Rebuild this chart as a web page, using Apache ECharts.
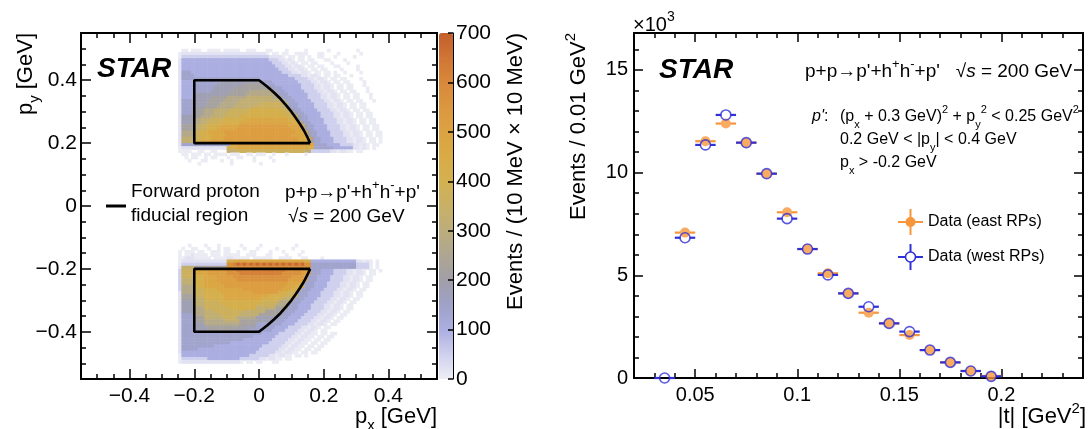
<!DOCTYPE html>
<html><head><meta charset="utf-8">
<script src="https://cdn.jsdelivr.net/npm/echarts@6/dist/echarts.min.js"></script>
<style>html,body{margin:0;padding:0;background:#fff}#c{width:1090px;height:429px}</style>
</head><body><div id="c"></div>
<script>
// ================= DATA =================
// Left panel: 2D histogram (10 MeV x 10 MeV bins).
// Each row is run-length encoded: "<pattern>*<count>" (pattern repeated to fill count bins);
// level '.' = empty bin, other characters index levelValues.
const levelKey    = '.0123456789ABCDEF';
const levelValues = [null, 5, 20, 50, 100, 140, 180, 220, 270, 320, 370, 420, 470, 520, 570, 620, 680];
const pxBinStart = -0.25;        // lower px edge of first column (GeV)
const topBlobPyStart = 0.49;     // lower py edge of first row, rows go downward
const bottomBlobPyStart = -0.13;

const topBlobRows = [
".*1 0*2 .*1 0*3 .*2 0*4 .*1 0*5 .*2 0*3 .*3 0*2 .*4 0*1 .*5 0*1 .*6 0*1 .*8 0*1 .*8",
"0*1 1*26 0.0*8 .*1 0*4 .*3 0*2 .*4 0*1 .*6 0*1 .*6",
"0*1 2*27 1*4 0.0*9 .*2 0*2 .*3 0*1 .*5 0*1 .*8",
"1*1 3*27 2*3 110*4 0.0*8 .*2 0*2 .*4 0*1 .*11",
"1*1 3*28 2*3 110*4 0.0*8 .*3 0*1 .*4 0*1 .*10",
"1*1 3*29 2*3 110*5 0.0*8 .*2 0*2 .*5 0*1 .*7",
"1*1 3*30 2*3 110*5 0.0*8 .*3 0*1 .*4 0*1 .*7",
"1*1 4*3 3*28 2*3 110*5 0.0*9 .*2 0*1 .*4 0*1 .*6",
"1*1 4*4 3*29 2*4 110*5 0.0*8 .*2 0*1 .*9",
"1*1 4*24 3*11 2*4 110*5 0.0*8 .*3 0*1 .*6",
"1*1 3*4 4*8 5*13 4*3 3*8 2*4 110*5 0.0*8 .*3 0*1 .*5",
"1*1 3*4 4*7 5*8 6*7 4*3 3*8 2*4 110*5 0.0*8 .*2 0*1 .*5",
"1*1 3*4 4*6 5*7 6*11 4*3 3*6 2*4 110*5 0.0*8 .*3 0*1 .*4",
"1*1 3*4 4*5 5*6 6*6 7*8 4*3 3*6 2*4 110*5 0.0*8 .*2 0*1 .*4",
"1*1 3*4 5*10 6*6 7*10 4*3 3*6 2*4 110*5 0.0*8 .*2 0*1 .*3",
"1*1 3*4 5*5 6*5 7*6 8*8 7*3 4*3 3*5 2*4 110*5 0.0*8 .*2 0*1 .*3",
"1*1 4*4 5*4 6*5 7*5 8*14 4*3 3*5 2*4 110*5 0.0*8 .*2 0*1 .*2",
"1*1 4*4 5*4 6*4 7*5 8*7 9*7 8*2 4*3 3*5 2*4 110*5 0.0*8 .*4",
"1*1 4*4 5*3 6*4 7*5 8*6 9*9 8*2 5*1 4*2 3*5 2*4 110*5 0.0*8 .*4",
"1*1 4*4 6*3 7*3 8*5 9*6 A*10 9*3 5*1 4*2 3*5 2*4 110*5 0.0*8 .*3",
"1*1 4*4 6*3 7*3 8*4 9*6 A*12 9*3 5*1 4*2 3*5 2*4 110*5 0.0*8 .*2",
"1*1 5*4 6*2 7*3 8*4 9*5 A*15 9*3 5*1 4*2 3*4 2*4 110*5 0.0*8 .*2",
"1*1 5*4 7*2 8*3 9*4 A*7 B*13 A*3 5*1 4*2 3*5 2*4 110*5 0.0*8 .*1",
"1*1 5*4 7*2 8*2 9*4 A*6 B*16 A*3 6*1 4*2 3*4 2*4 110*5 0.0*8 .*1",
"1*1 6*4 8*2 9*2 A*4 B*6 C*15 B*5 6*1 4*2 3*4 2*4 110*5 0.0*8",
"1*1 6*4 8*2 9*2 A*3 B*6 C*17 B*4 6*1 4*2 3*4 2*4 110*5 0.0*8",
"1*1 7*4 9*2 A*2 B*5 C*22 B*4 6*1 4*2 3*4 2*4 110*5 0.0*7",
"1*1 7*4 9*2 A*3 B*5 C*20 B*5 6*1 4*2 3*4 2*4 110*5 0.0*7",
"1*1 8*4 9*2 A*3 B*4 C*23 B*4 6*1 4*2 3*4 2*4 110*5 0.0*6",
"1*1 8*4 A*2 B*3 C*27 B*4 6*1 4*2 3*4 2*4 110*5 0.0*6",
"1*1 4*15 B*2 C*23 B*1 4*4 3*4 2*4 110*4 0.0*5",
"0*1 1*14 A*3 B*22 A*2 4*6 3*6 110*4 0.0*3 .*2",
"0*1 0*3 .*2 0*2 .*2 0*2 .*3 8*3 9*21 8*2 2*6 110*6 0.0*4 .*6",
".*1 0*2 .*1 0*3 .*1 0*2 .*1 0*4 .*1 0*3 .*2 0*2 .*1 0*3 .*2 0*1 .*3 0*1 .*5 0*1 .*24",
".*2 0*1 .*1 0*2 .*2 0*1 .*1 0*2 .*3 0*1 .*2 0*2 .*3 0*1 .*4 0*1 .*35",
".*3 0*1 .*3 0*2 .*4 0*1 .*2 0*1 .*6 0*1 .*5 0*1 .*34",
".*6 0*1 .*9 0*1 .*8 0*1 .*37"
];

const bottomBlobRows = [
".*3 0*1 .*4 0*1 .*3 0*1 .*6 0*1 .*5 0*1 .*10 0*1 .*27",
".*1 0*1 .*2 0*2 .*3 0*1 .*2 0*1 .*1 0*2 .*4 0*1 .*3 0*1 .*5 0*1 .*4 0*1 .*29",
"0*1 .*1 0*3 .*1 0*2 .*2 0*3 .*1 0*2 .*2 0*1 .*3 0*2 .*4 0*1 .*3 0*1 .*5 0*1 .*25",
"0*1 .*1 0*2 1*1 0*4 .*1 0*3 .*1 0*5 .*2 0*3 .*3 0*2 .*4 0*1 .*3 0*1 .*25",
"0*2 1*3 0*5 .*1 0*4 1*2 0*5 .*1 0*6 .*2 0*4 .*3 0*2 .*4 0*1 .*18",
"0*1 1*14 A*2 B*22 A*2 3*14 110*4 0.0*3 .*1",
"0*1 2*14 D*2 EF*22 D*2 4*14 2*4 0.0*3 .*1",
"1*1 8*4 6*10 D*2 D*22 D*2 4*14 2*4 0.0*3 .*1",
"2*1 9*4 B*4 C*6 D*3 E*15 D*5 C*3 4*3 3*4 2*4 110*5 0.0*6",
"2*1 9*4 B*4 C*6 D*4 E*13 D*6 C*3 4*3 3*4 2*4 110*5 0.0*5 .*1",
"2*1 9*4 A*3 B*4 C*5 D*18 C*5 4*3 3*4 2*4 110*5 0.0*5 .*2",
"2*1 8*4 A*3 B*4 C*6 D*16 C*6 4*3 3*4 2*4 110*5 0.0*5 .*2",
"2*1 8*4 A*3 B*5 C*21 B*5 4*3 3*4 2*4 110*5 0.0*5 .*3",
"2*1 7*4 A*3 B*6 C*19 B*3 A*3 4*3 3*4 2*4 110*5 0.0*5 .*3",
"2*1 7*4 9*3 A*4 B*8 C*12 B*3 A*3 4*3 3*4 2*4 110*5 0.0*5 .*4",
"1*1 7*4 9*3 A*5 B*10 C*8 A*3 9*3 4*3 3*4 2*4 110*5 0.0*5 .*5",
"1*1 6*4 9*3 A*6 B*14 A*5 9*4 4*3 3*4 2*4 110*5 0.0*5 .*5",
"1*1 6*4 8*3 A*6 B*12 A*6 8*4 4*3 3*4 2*4 110*5 0.0*5 .*6",
"1*1 5*4 8*3 9*5 A*13 9*5 7*4 4*3 3*4 2*4 110*5 0.0*5 .*7",
"1*1 5*4 8*3 9*6 A*10 9*6 7*4 4*3 3*4 2*4 110*5 0.0*5 .*8",
"1*1 5*4 7*3 9*8 A*8 8*6 6*4 4*3 3*4 2*4 110*5 0.0*5 .*8",
"1*1 5*4 7*3 8*3 9*9 8*7 6*6 4*3 3*4 2*4 110*5 0.0*5 .*9",
"1*1 4*4 7*3 8*5 9*6 8*6 6*7 4*3 3*4 2*4 110*5 0.0*5 .*10",
"1*1 4*4 6*3 8*6 9*4 7*6 5*7 4*3 3*4 2*4 110*5 0.0*5 .*11",
"1*1 4*4 6*3 7*6 8*5 6*6 5*5 4*3 3*4 2*4 110*5 0.0*5 .*12",
"1*1 4*4 5*3 7*11 6*5 4*5 4*3 3*4 2*4 110*5 0.0*5 .*13",
"1*1 4*4 5*4 6*11 5*4 4*6 3*4 2*4 110*5 0.0*5 .*15",
"1*1 4*4 5*4 6*8 5*5 4*7 3*4 2*4 110*5 0.0*5 .*16",
"1*1 4*25 3*5 2*5 110*6 0.0*8 .*13",
"1*1 4*22 3*7 2*5 110*6 0.0*8 .*14",
"1*1 4*19 3*9 2*5 110*6 0.0*8 .*15",
"1*1 4*15 3*12 2*5 110*6 0.0*8 .*16",
"1*1 4*10 3*15 2*6 110*6 0.0*7 .*18",
"1*1 4*5 3*19 2*6 110*6 0.0*7 .*19",
"1*1 3*23 2*6 110*6 0.0*7 .*20",
"0*1 3*21 2*6 110*6 0.0*6 .*23",
"0*1 2*8 3*10 2*6 110*6 0.0*5 .*27",
"0*1 1*18 0.0*8 .*2 0*2 .*32"
];

// Fiducial region outline (upper one; lower one is its mirror in py)
const fiducialBox = [[0.158, 0.20], [-0.20, 0.20], [-0.20, 0.40], [0.0, 0.40]];
const fiducialArc = [[0.0,0.40],[0.025,0.38],[0.047,0.36],[0.067,0.34],[0.084,0.32],[0.100,0.30],
                     [0.114,0.28],[0.127,0.26],[0.139,0.24],[0.149,0.22],[0.158,0.20]];

// Left panel ticks
const leftMajorTicks = [-0.4, -0.2, 0, 0.2, 0.4];
const leftMinorTicks = [-0.5,-0.45,-0.35,-0.3,-0.25,-0.15,-0.1,-0.05,0.05,0.1,0.15,0.25,0.3,0.35,0.45,0.5];
const colorbarTicks  = [0, 100, 200, 300, 400, 500, 600, 700];

// Right panel: |t| distribution
const tCenters   = [0.035,0.045,0.055,0.065,0.075,0.085,0.095,0.105,0.115,0.125,0.135,0.145,0.155,0.165,0.175,0.185,0.195];
const eastCounts = [null, 7080,11530,12390,11460, 9950, 8070, 6280, 5100, 4120, 3180, 2660, 2090, 1360, 760, 340, 100];
const westCounts = [0,    6830,11350,12810,11460, 9950, 7760, 6280, 5020, 4120, 3470, 2660, 2260, 1360, 760, 340, 80];
const tMajorTicks = [0.05, 0.1, 0.15, 0.2];
const tMinorTicks = [0.02,0.03,0.04,0.06,0.07,0.08,0.09,0.11,0.12,0.13,0.14,0.16,0.17,0.18,0.19,0.21,0.22,0.23,0.24];
const nMajorTicks = [0, 5000, 10000, 15000];
const nMinorTicks = [1000,2000,3000,4000,6000,7000,8000,9000,11000,12000,13000,14000,16000];

// ================= BUILD =================
const BIN = 0.01, HALF_T_BIN = 0.005;
function expandRow(s) {
  let out = '';
  s.trim().split(/\s+/).forEach(tok => {
    const k = tok.lastIndexOf('*'); const pat = tok.slice(0, k), n = +tok.slice(k + 1);
    out += pat.repeat(Math.ceil(n / pat.length)).slice(0, n);
  });
  return out;
}
function blobCells(rows, pyStart) {
  const cells = [];
  rows.forEach((row, r) => {
    const s = expandRow(row);
    for (let c = 0; c < Math.min(s.length, 63); c++) {
      const v = levelValues[levelKey.indexOf(s[c])];
      if (v != null) cells.push([+(pxBinStart + BIN * c).toFixed(3), +(pyStart - BIN * r).toFixed(3), v]);
    }
  });
  return cells;
}
const heatCells = blobCells(topBlobRows, topBlobPyStart).concat(blobCells(bottomBlobRows, bottomBlobPyStart));
const fidTop = fiducialBox.concat(fiducialArc.slice(1));
const fidBottom = fidTop.map(p => [p[0], -p[1]]);

const F = '"Liberation Sans", Arial, Helvetica, sans-serif';
const ORANGE = '#f7963a', BLUE = '#3030d8';

function mkAxis(grid, pos, min, max, ticks, len, labels, fmt, fs, margin, showLine) {
  return {
    type: 'value', gridIndex: grid, position: pos, min, max, z: 5, silent: true,
    axisLine: { show: showLine, onZero: false, lineStyle: { color: '#000', width: 2 } },
    axisTick: { show: true, inside: true, length: len, customValues: ticks, lineStyle: { color: '#000', width: 1.5 } },
    axisLabel: labels ? { show: true, customValues: labels, formatter: fmt, fontFamily: F, fontSize: fs, color: '#000', margin } : { show: false },
    splitLine: { show: false }
  };
}
const signFmt = v => (v < 0 ? '\u2212' + (-v) : String(v));

function rich(fs) {
  const s = Math.round(fs * 0.68);
  return {
    n:   { fontFamily: F, fontSize: fs, color: '#000', lineHeight: fs + 10 },
    i:   { fontFamily: F, fontSize: fs, fontStyle: 'italic', color: '#000', lineHeight: fs + 10 },
    sub: { fontFamily: F, fontSize: s, color: '#000', lineHeight: s, verticalAlign: 'bottom' },
    sup: { fontFamily: F, fontSize: s, color: '#000', lineHeight: s, verticalAlign: 'top' }
  };
}
function txt(x, y, text, fs, align, rotation) {
  const o = { type: 'text', x, y, z: 20, silent: true,
    style: { text, rich: rich(fs), fontFamily: F, fontSize: fs, fill: '#000', align: align || 'left', verticalAlign: 'middle' } };
  if (rotation) o.rotation = rotation;
  return o;
}
function star(x, y) {
  return { type: 'text', x, y, z: 20, silent: true,
    style: { text: 'STAR', fontFamily: F, fontSize: 28, fontWeight: 'bold', fontStyle: 'italic', fill: '#000', align: 'left', verticalAlign: 'middle' } };
}

function errBar(color) {
  return (params, api) => {
    const t = api.value(0), n = api.value(1);
    const c = api.coord([t, n]), l = api.coord([t - HALF_T_BIN, n]), r = api.coord([t + HALF_T_BIN, n]);
    const gap = 4.5;
    return { type: 'group', children: [
      { type: 'line', shape: { x1: l[0], y1: c[1], x2: c[0] - gap, y2: c[1] }, style: { stroke: color, lineWidth: 2.2 } },
      { type: 'line', shape: { x1: c[0] + gap, y1: c[1], x2: r[0], y2: c[1] }, style: { stroke: color, lineWidth: 2.2 } }
    ]};
  };
}
const eastData = tCenters.map((t, i) => eastCounts[i] == null ? null : [t, eastCounts[i]]).filter(Boolean);
const westData = tCenters.map((t, i) => westCounts[i] == null ? null : [t, westCounts[i]]).filter(Boolean);

const LG = { l: 81, t: 33, w: 356, h: 346 };
const RG = { l: 634, t: 33, w: 449, h: 345 };

const option = {
  animation: false,
  backgroundColor: '#fff',
  grid: [
    { left: LG.l, top: LG.t, width: LG.w, height: LG.h },
    { left: 439, top: 33, width: 14, height: 346 },
    { left: RG.l, top: RG.t, width: RG.w, height: RG.h }
  ],
  xAxis: [
    mkAxis(0, 'bottom', -0.55, 0.55, leftMajorTicks, 10, leftMajorTicks, signFmt, 21, 7, true),
    mkAxis(0, 'bottom', -0.55, 0.55, leftMinorTicks, 5, null, null, 0, 0, false),
    mkAxis(0, 'top', -0.55, 0.55, leftMajorTicks, 10, null, null, 0, 0, true),
    mkAxis(0, 'top', -0.55, 0.55, leftMinorTicks, 5, null, null, 0, 0, false),
    { type: 'value', gridIndex: 1, show: false, min: 0, max: 1 },
    mkAxis(2, 'bottom', 0.02, 0.24, tMajorTicks, 9, tMajorTicks, v => String(v), 20, 7, true),
    mkAxis(2, 'bottom', 0.02, 0.24, tMinorTicks, 5, null, null, 0, 0, false),
    mkAxis(2, 'top', 0.02, 0.24, tMajorTicks, 9, null, null, 0, 0, true),
    mkAxis(2, 'top', 0.02, 0.24, tMinorTicks, 5, null, null, 0, 0, false)
  ],
  yAxis: [
    mkAxis(0, 'left', -0.55, 0.55, leftMajorTicks, 10, leftMajorTicks, signFmt, 21, 4, true),
    mkAxis(0, 'left', -0.55, 0.55, leftMinorTicks, 5, null, null, 0, 0, false),
    mkAxis(0, 'right', -0.55, 0.55, leftMajorTicks, 10, null, null, 0, 0, true),
    mkAxis(0, 'right', -0.55, 0.55, leftMinorTicks, 5, null, null, 0, 0, false),
    Object.assign(mkAxis(1, 'right', 0, 700, colorbarTicks, 5, colorbarTicks, v => String(v), 21, 3, true),
      { axisLine: { show: true, onZero: false, lineStyle: { color: '#000', width: 1 } } }),
    mkAxis(2, 'left', 0, 16800, nMajorTicks, 9, nMajorTicks, v => String(v / 1000), 20, 6, true),
    mkAxis(2, 'left', 0, 16800, nMinorTicks, 5, null, null, 0, 0, false),
    mkAxis(2, 'right', 0, 16800, nMajorTicks, 9, null, null, 0, 0, true),
    mkAxis(2, 'right', 0, 16800, nMinorTicks, 5, null, null, 0, 0, false)
  ],
  visualMap: [{
    type: 'continuous', seriesIndex: 0, dimension: 2, min: 0, max: 700,
    calculable: false, hoverLink: false, left: 439, top: 33, itemWidth: 14, itemHeight: 346, padding: 0,
    text: null, orient: 'vertical',
    inRange: { color: ['#eeeef5','#cfd0ee','#abaee0','#9fa1c8','#a19fa8','#aea692','#bcad7c','#c8b066',
                       '#d3b150','#d9ab46','#dca242','#db973f','#d8883a','#d07535','#c35f2c'] }
  }],
  series: [
    { type: 'custom', name: 'proton pT', xAxisIndex: 0, yAxisIndex: 0, data: heatCells, encode: { x: 0, y: 1 },
      silent: true, clip: true, z: 1, progressive: 0,
      renderItem: (params, api) => {
        const x = api.value(0), y = api.value(1);
        const a = api.coord([x, y + BIN]), b = api.coord([x + BIN, y]);
        return { type: 'rect', shape: { x: a[0], y: a[1], width: b[0] - a[0] + 0.5, height: b[1] - a[1] + 0.5 },
                 style: { fill: api.visual('color') } };
      } },
    { type: 'line', xAxisIndex: 0, yAxisIndex: 0, data: fidTop, showSymbol: false, silent: true, z: 4,
      lineStyle: { color: '#000', width: 2.6 } },
    { type: 'line', xAxisIndex: 0, yAxisIndex: 0, data: fidBottom, showSymbol: false, silent: true, z: 4,
      lineStyle: { color: '#000', width: 2.6 } },
    { type: 'custom', name: 'east bars', xAxisIndex: 5, yAxisIndex: 5, data: eastData, encode: { x: 0, y: 1 },
      silent: true, z: 6, renderItem: errBar(ORANGE) },
    { type: 'custom', name: 'west bars', xAxisIndex: 5, yAxisIndex: 5, data: westData, encode: { x: 0, y: 1 },
      silent: true, z: 6, renderItem: errBar(BLUE) },
    { type: 'scatter', name: 'Data (east RPs)', xAxisIndex: 5, yAxisIndex: 5, data: eastData, symbol: 'circle',
      symbolSize: 10, silent: true, z: 7, itemStyle: { color: ORANGE } },
    { type: 'scatter', name: 'Data (west RPs)', xAxisIndex: 5, yAxisIndex: 5, data: westData, symbol: 'circle',
      symbolSize: 10, silent: true, z: 8, itemStyle: { color: 'rgba(0,0,0,0)', borderColor: BLUE, borderWidth: 1.6 } }
  ],
  graphic: [
    // left panel texts
    txt(26, 33, '{n|p}{sub|y}{n| [GeV]}', 22, 'right', Math.PI / 2),
    txt(437, 417, '{n|p}{sub|x}{n| [GeV]}', 22, 'right'),
    txt(516, 33, '{n|Events / (10 MeV \u00d7 10 MeV)}', 22, 'right', Math.PI / 2),
    star(97, 69),
    { type: 'line', z: 20, silent: true, shape: { x1: 106, y1: 206, x2: 126, y2: 206 }, style: { stroke: '#000', lineWidth: 3 } },
    txt(131, 192, '{n|Forward proton}', 19),
    txt(131, 216, '{n|fiducial region}', 19),
    txt(285, 193, "{n|p+p\u2192p'+h}{sup|+}{n|h}{sup|-}{n|+p'}", 19),
    txt(288, 217, '{n|\u221a}{i|s}{n| = 200 GeV}', 19),
    // right panel texts
    txt(579, 33, '{n|Events / 0.01 GeV}{sup|2}', 22, 'right', Math.PI / 2),
    txt(1086, 417, '{n||t| [GeV}{sup|2}{n|]}', 22, 'right'),
    txt(633, 25, '{n|\u00d710}{sup|3}', 20),
    star(659, 70),
    txt(805, 72, "{n|p+p\u2192p'+h}{sup|+}{n|h}{sup|-}{n|+p'   \u221a}{i|s}{n| = 200 GeV}", 19),
    txt(812, 117, "{i|p'}{n|:}", 16),
    txt(840, 117, '{n|(p}{sub|x}{n| + 0.3 GeV)}{sup|2}{n| + p}{sub|y}{sup|2}{n| < 0.25 GeV}{sup|2}', 16),
    txt(840, 140, '{n|0.2 GeV < |p}{sub|y}{n|| < 0.4 GeV}', 16),
    txt(840, 163, '{n|p}{sub|x}{n| > -0.2 GeV}', 16),
    // legend (right panel)
    { type: 'line', z: 20, silent: true, shape: { x1: 898, y1: 222, x2: 923, y2: 222 }, style: { stroke: ORANGE, lineWidth: 2 } },
    { type: 'line', z: 20, silent: true, shape: { x1: 910.5, y1: 209, x2: 910.5, y2: 235 }, style: { stroke: ORANGE, lineWidth: 2 } },
    { type: 'circle', z: 21, silent: true, shape: { cx: 910.5, cy: 222, r: 5 }, style: { fill: ORANGE } },
    { type: 'line', z: 20, silent: true, shape: { x1: 898, y1: 257, x2: 905.5, y2: 257 }, style: { stroke: BLUE, lineWidth: 2 } },
    { type: 'line', z: 20, silent: true, shape: { x1: 915.5, y1: 257, x2: 923, y2: 257 }, style: { stroke: BLUE, lineWidth: 2 } },
    { type: 'line', z: 20, silent: true, shape: { x1: 910.5, y1: 244, x2: 910.5, y2: 252 }, style: { stroke: BLUE, lineWidth: 2 } },
    { type: 'line', z: 20, silent: true, shape: { x1: 910.5, y1: 262, x2: 910.5, y2: 270 }, style: { stroke: BLUE, lineWidth: 2 } },
    { type: 'circle', z: 21, silent: true, shape: { cx: 910.5, cy: 257, r: 5 }, style: { fill: 'none', stroke: BLUE, lineWidth: 1.6 } },
    txt(928, 222, '{n|Data (east RPs)}', 16),
    txt(928, 257, '{n|Data (west RPs)}', 16)
  ]
};
const chart = echarts.init(document.getElementById('c'), null, { renderer: 'canvas' });
chart.setOption(option);
</script></body></html>
